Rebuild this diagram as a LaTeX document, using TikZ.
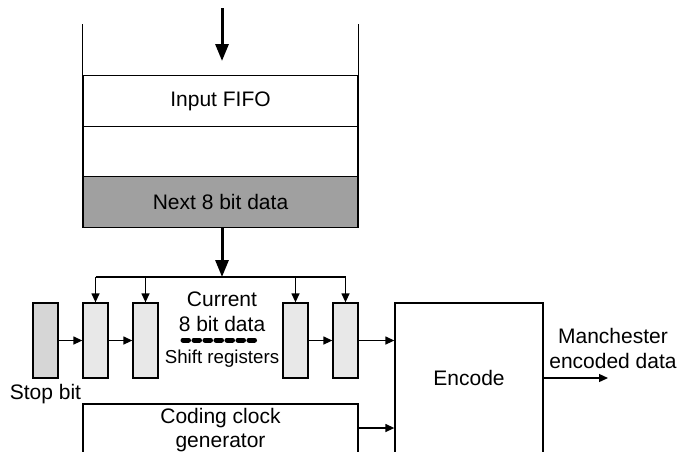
\documentclass[tikz,border=0pt]{standalone}
\usepackage{fontspec}
\setmainfont{Liberation Sans}
\usetikzlibrary{arrows.meta,positioning}

\definecolor{nextfill}{RGB}{160,160,160}
\definecolor{regfill}{RGB}{232,232,232}
\definecolor{stopfill}{RGB}{214,214,214}

\tikzset{
  row/.style={draw, minimum width=275pt, minimum height=50.5pt, inner sep=0pt,
    font=\fontsize{21}{25}\selectfont},
  reg/.style={draw, fill=regfill, minimum width=25pt, minimum height=75pt, inner sep=0pt},
  txt/.style={inner sep=0pt, align=center, font=\fontsize{21}{25}\selectfont},
  thin arrow/.style={-{Triangle[length=9pt,width=8pt]}, line width=1.3pt},
  thick arrow/.style={-{Triangle[length=17pt,width=13pt]}, line width=3pt},
}

\begin{document}
\begin{tikzpicture}[x=1pt, y=-1pt, line width=1.3pt]
  \clip (0,0) rectangle (687,451);

  % input FIFO
  \node[row] (fifo) at (220.5,101) {Input FIFO};
  \node[row] (empty) at (220.5,151.5) {};
  \node[row, fill=nextfill] (next) at (220.5,202) {Next 8 bit data};
  \draw (fifo.north west) -- ++(0,-51);
  \draw (fifo.north east) -- ++(0,-51);
  \coordinate (in) at (222,8);
  \coordinate (inend) at (222,61);
  \draw[thick arrow] (in) -- (inend);

  % shift registers
  \node[reg, fill=stopfill] (stop) at (45.5,340.5) {};
  \node[reg] (r1) at (95.5,340.5) {};
  \node[reg] (r2) at (145.5,340.5) {};
  \node[reg] (r3) at (295.5,340.5) {};
  \node[reg] (r4) at (345.5,340.5) {};
  \coordinate (bus) at (222,277);
  \draw[thick arrow] (next.south -| bus) -- (bus);
  \draw (r1.north |- bus) -- (r4.north |- bus);
  \foreach \r in {r1,r2,r3,r4}
    \draw[thin arrow] (\r.north |- bus) -- (\r.north);
  \draw[thin arrow] (stop.east) -- (r1.west);
  \draw[thin arrow] (r1.east) -- (r2.west);
  \draw[thin arrow] (r3.east) -- (r4.west);

  \node[txt] (cur) at (222,312) {Current\\8 bit data};
  \draw[line width=5pt, line cap=round, dash pattern=on 5.5pt off 5.5pt]
    (183,340) -- (256,340);
  \node[txt, font=\fontsize{18.7}{22}\selectfont] (shift) at (222,359) {Shift registers};
  \node[txt, below=5pt of stop] (stoplbl) {Stop bit};

  % encoder and clock
  \node[draw, minimum width=148pt, minimum height=150pt, inner sep=0pt,
    font=\fontsize{21}{25}\selectfont] (enc) at (469,378) {Encode};
  \node[draw, minimum width=275pt, minimum height=52pt, inner sep=0pt, align=center,
    font=\fontsize{21}{24}\selectfont] (clk) at (220.5,430) {Coding clock\\generator};
  \draw[thin arrow] (r4.east) -- (r4.east -| enc.west);
  \draw[thin arrow] (clk.east |- 0,428) -- (enc.west |- 0,428);
  \coordinate (out) at (608,378);
  \draw[thin arrow] (enc.east) -- (out);
  \node[txt] (outlbl) at (613,348) {Manchester\\encoded data};
\end{tikzpicture}
\end{document}
